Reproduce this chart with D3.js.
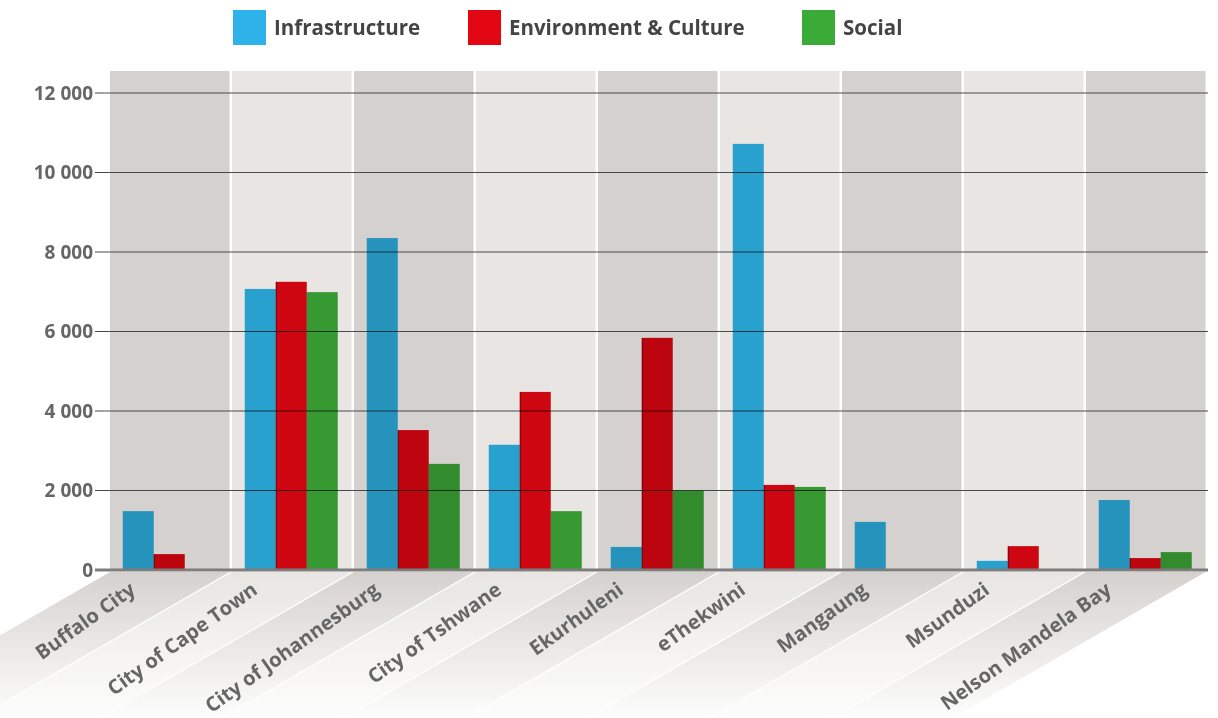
<!DOCTYPE html>
<html>
<head>
<meta charset="utf-8">
<script src="https://cdn.jsdelivr.net/npm/d3@7"></script>
<style>
  body { margin: 0; background: #fff; }
  svg { display: block; font-family: "Open Sans", sans-serif; }
</style>
</head>
<body>
<div id="container"></div>
<script>
// Data
const cities = ["Buffalo City", "City of Cape Town", "City of Johannesburg", "City of Tshwane",
  "Ekurhuleni", "eThekwini", "Mangaung", "Msunduzi", "Nelson Mandela Bay"];
const seriesNames = ["Infrastructure", "Environment & Culture", "Social"];
const infrastructure = [1480, 7070, 8350, 3150, 580, 10720, 1210, 230, 1760];
const environment = [400, 7250, 3520, 4480, 5840, 2140, 0, 600, 300];
const social = [0, 6990, 2670, 1480, 2000, 2090, 0, 0, 450];
const yTicks = [0, 2000, 4000, 6000, 8000, 10000, 12000];

const seriesColors = ["#2db3ea", "#e30613", "#3bab37"];
const bandColors = ["#d5d1ce", "#e8e5e2"];

const width = 1218;
const height = 718;
const svg = d3.create("svg")
  .attr("width", width)
  .attr("height", height);
container.append(svg.node());

const plotTop = 71;
const plotBottom = 570;
const plotLeft = 110;
const plotRight = 1208;

// 122px per column, 2.5px white gap between columns
const x0 = d3.scaleBand()
  .domain(cities)
  .range([plotLeft, 1205.5])
  .paddingInner(2.5 / 122);

const x1 = d3.scaleBand()
  .domain(seriesNames)
  .range([0, 93]);

const y = d3.scaleLinear()
  .domain([0, 12000])
  .range([plotBottom, 93]);

const rows = cities.map((c, i) => ({
  city: c,
  i,
  values: [infrastructure[i], environment[i], social[i]]
}));

const defs = svg.append("defs");

// gradients for the slanted floor strips below the axis
bandColors.forEach((col, k) => {
  const g = defs.append("linearGradient")
    .attr("id", "floor" + k)
    .attr("gradientUnits", "userSpaceOnUse")
    .attr("x1", 0).attr("y1", plotBottom + 2)
    .attr("x2", 0).attr("y2", height);
  g.append("stop").attr("offset", 0).attr("stop-color", col);
  g.append("stop").attr("offset", 0.45).attr("stop-color", d3.interpolateRgb(col, "#fff")(0.45));
  g.append("stop").attr("offset", 1).attr("stop-color", "#fdfdfd");
});

// column backgrounds
svg.append("g")
  .selectAll("rect")
  .data(rows)
  .join("rect")
  .attr("x", d => x0(d.city))
  .attr("y", plotTop)
  .attr("width", x0.bandwidth())
  .attr("height", plotBottom - plotTop)
  .attr("fill", d => bandColors[d.i % 2]);

// floor strips, slanted 30 degrees down to the left
const ang = 30 * Math.PI / 180;
const len = 320;
const dx = -len * Math.cos(ang);
const dy = len * Math.sin(ang);
const floorTop = plotBottom + 2;
svg.append("g")
  .selectAll("path")
  .data(rows)
  .join("path")
  .attr("d", d => {
    const a = x0(d.city), b = a + x0.bandwidth();
    return `M${a},${floorTop}L${b},${floorTop}L${b + dx},${floorTop + dy}L${a + dx},${floorTop + dy}Z`;
  })
  .attr("fill", d => `url(#floor${d.i % 2})`);

// grid lines
svg.append("g")
  .selectAll("line")
  .data(yTicks.filter(t => t > 0))
  .join("line")
  .attr("x1", 95)
  .attr("x2", plotRight)
  .attr("y1", d => y(d))
  .attr("y2", d => y(d))
  .attr("stroke", "#4a4a4a")
  .attr("stroke-width", 1);

// bars
const groups = svg.append("g")
  .selectAll("g")
  .data(rows)
  .join("g")
  .attr("transform", d => `translate(${x0(d.city) + x0.bandwidth() / 2 - 47},0)`);

groups.selectAll("rect")
  .data(d => d.values.map((v, k) => ({ v, k })))
  .join("rect")
  .attr("x", d => x1(seriesNames[d.k]))
  .attr("y", d => y(d.v))
  .attr("width", x1.bandwidth())
  .attr("height", d => plotBottom - y(d.v))
  .attr("fill", d => seriesColors[d.k])
  .style("mix-blend-mode", "multiply");

// thin shadow on the left edge of the red bars
groups.selectAll(".edge")
  .data(d => [d.values[1]].filter(v => v > 0))
  .join("rect")
  .attr("class", "edge")
  .attr("x", x1(seriesNames[1]))
  .attr("y", d => y(d))
  .attr("width", 1.2)
  .attr("height", d => plotBottom - y(d))
  .attr("fill", "#000")
  .attr("opacity", 0.35);

// zero axis line
svg.append("line")
  .attr("x1", 95)
  .attr("x2", plotRight)
  .attr("y1", plotBottom)
  .attr("y2", plotBottom)
  .attr("stroke", "#7d7d7d")
  .attr("stroke-width", 3);

// y tick labels, space as thousands separator
const fmt = d => d3.format(",")(d).replace(/,/g, " ");
svg.append("g")
  .selectAll("text")
  .data(yTicks)
  .join("text")
  .attr("x", 93)
  .attr("y", d => y(d))
  .attr("dy", "0.36em")
  .attr("text-anchor", "end")
  .attr("font-size", 19)
  .attr("font-weight", 700)
  .attr("fill", "#666")
  .text(fmt);

// category labels along the strips
svg.append("g")
  .selectAll("text")
  .data(rows)
  .join("text")
  .attr("transform", d => {
    const cx = x0(d.city) + x0.bandwidth() / 2 - 37;
    return `translate(${cx},${plotBottom + 17}) rotate(-35.5)`;
  })
  .attr("text-anchor", "end")
  .attr("dy", "0.35em")
  .attr("font-size", 20)
  .attr("font-weight", 700)
  .attr("fill", "#666")
  .text(d => d.city);

// legend
const legendX = [233, 468, 802];
const legend = svg.append("g")
  .selectAll("g")
  .data(seriesNames)
  .join("g")
  .attr("transform", (d, i) => `translate(${legendX[i]},10)`);

legend.append("rect")
  .attr("width", 33)
  .attr("height", 35)
  .attr("fill", (d, i) => seriesColors[i]);

legend.append("text")
  .attr("x", 41)
  .attr("y", 18)
  .attr("dy", "0.36em")
  .attr("font-size", 20.5)
  .attr("font-weight", 700)
  .attr("fill", "#444")
  .text(d => d);
</script>
</body>
</html>
